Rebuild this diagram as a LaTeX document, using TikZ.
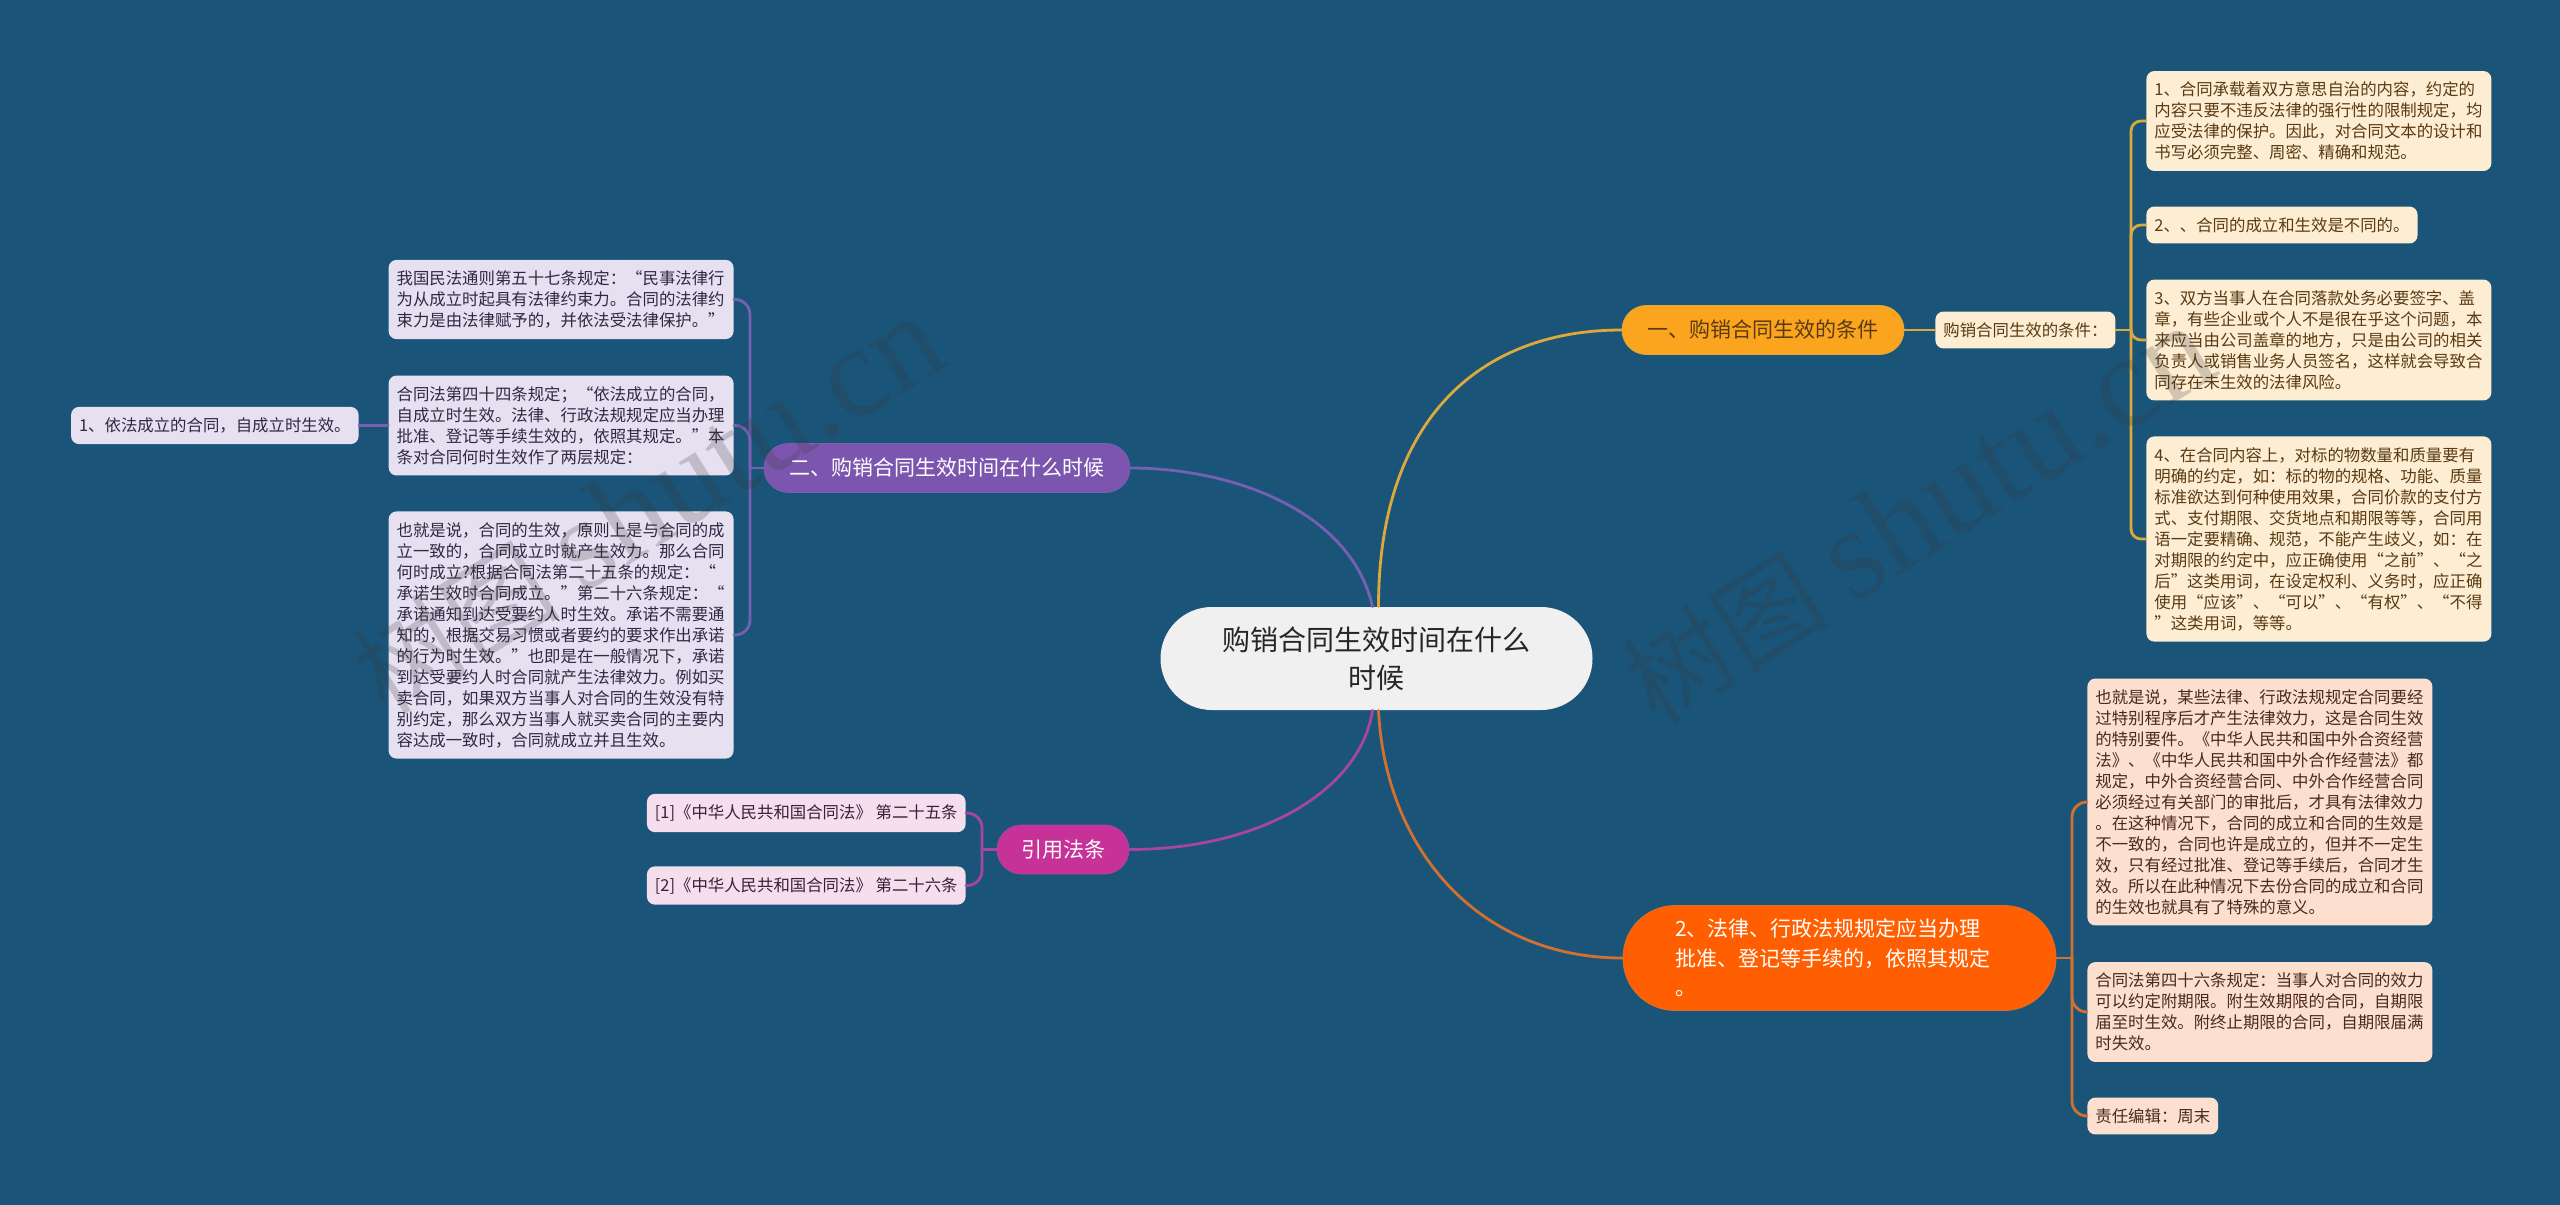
\documentclass[tikz,border=0pt]{standalone}
\usepackage{fontspec}
\setmainfont{Noto Sans CJK SC}
\newfontfamily\serifmark[Scale=1.25]{Liberation Serif}
\usepackage{tikz}

\definecolor{bgblue}{HTML}{1A5579}
\definecolor{goldline}{HTML}{DDA93B}
\definecolor{goldfill}{HTML}{FBA51E}
\definecolor{goldleaf}{HTML}{FDEDD3}
\definecolor{goldtext}{HTML}{5A3A12}
\definecolor{violetline}{HTML}{7660B4}
\definecolor{violetfill}{HTML}{7C56AE}
\definecolor{violetleaf}{HTML}{E6E0F1}
\definecolor{violettext}{HTML}{2E2A44}
\definecolor{pinkline}{HTML}{A845A0}
\definecolor{pinkfill}{HTML}{C73298}
\definecolor{pinkleaf}{HTML}{F5DEEE}
\definecolor{pinktext}{HTML}{3C2038}
\definecolor{orangeline}{HTML}{D4702F}
\definecolor{orangefill}{HTML}{FF5F00}
\definecolor{orangeleaf}{HTML}{FDDFCF}
\definecolor{orangetext}{HTML}{4A2A1A}

\tikzset{
  rootnode/.style={fill=#1, rounded corners=25.7pt, minimum width=216pt, minimum height=51.5pt,
    align=center, text=black!85, font=\fontsize{14}{19}\selectfont},
  branchnode/.style={rounded corners=12.2pt, minimum height=24.5pt, inner xsep=0pt,
    font=\fontsize{10.5}{14.7}\selectfont},
  leafnode/.style={rounded corners=4pt, inner xsep=4pt, inner ysep=5.4pt, align=left,
    font=\fontsize{8.2}{10.5}\selectfont},
  wideleaf/.style={leafnode, text width=164.5pt},
  link/.style={line width=1.4pt, line cap=round},
  markword/.style={text=gray!45!black, opacity=.22, rotate=32, font=\fontsize{52}{60}\selectfont}
}

\begin{document}
\begin{tikzpicture}[x=0.5pt, y=-0.5pt]
\def \bendgold {5pt}
\def \bendwide {7.5pt}

\fill[bgblue] (0,0) rectangle (2560,1205);
\useasboundingbox (0,0) rectangle (2560,1205);

\node[rootnode=black!6] (root) at (1376.5,658.5) {购销合同生效时间在什么\\时候};

% gold side
\node[branchnode, fill=goldfill, draw=goldline, text=goldtext, minimum width=141pt] (goldmain) at (1763,330) {一、购销合同生效的条件};
\node[leafnode, fill=goldleaf, text=goldtext, anchor=west] (goldsub) at (1935,330) {购销合同生效的条件：};
\node[wideleaf, fill=goldleaf, text=goldtext, anchor=west] (gold1) at (2146,121)
  {1、合同承载着双方意思自治的内容，约定的\\内容只要不违反法律的强行性的限制规定，均\\应受法律的保护。因此，对合同文本的设计和\\书写必须完整、周密、精确和规范。};
\node[leafnode, fill=goldleaf, text=goldtext, anchor=west] (gold2) at (2146,225) {2、、合同的成立和生效是不同的。};
\node[wideleaf, fill=goldleaf, text=goldtext, anchor=west] (gold3) at (2146,340)
  {3、双方当事人在合同落款处务必要签字、盖\\章，有些企业或个人不是很在乎这个问题，本\\来应当由公司盖章的地方，只是由公司的相关\\负责人或销售业务人员签名，这样就会导致合\\同存在未生效的法律风险。};
\node[wideleaf, fill=goldleaf, text=goldtext, anchor=west] (gold4) at (2146,539)
  {4、在合同内容上，对标的物数量和质量要有\\明确的约定，如：标的物的规格、功能、质量\\标准欲达到何种使用效果，合同价款的支付方\\式、支付期限、交货地点和期限等等，合同用\\语一定要精确、规范，不能产生歧义，如：在\\对期限的约定中，应正确使用“之前”、“之\\后”这类用词，在设定权利、义务时，应正确\\使用“应该”、“可以”、“有权”、“不得\\”这类用词，等等。};

% orange side
\node[branchnode, fill=orangefill, draw=orangeline, text=white, rounded corners=26pt, inner xsep=26pt, text width=164.5pt,
  minimum width=216.5pt, minimum height=52.5pt, align=left] (orangemain) at (1839.5,958)
  {2、法律、行政法规规定应当办理\\批准、登记等手续的，依照其规定\\。};
\node[wideleaf, fill=orangeleaf, text=orangetext, anchor=west] (orange1) at (2087,802)
  {也就是说，某些法律、行政法规规定合同要经\\过特别程序后才产生法律效力，这是合同生效\\的特别要件。《中华人民共和国中外合资经营\\法》、《中华人民共和国中外合作经营法》都\\规定，中外合资经营合同、中外合作经营合同\\必须经过有关部门的审批后，才具有法律效力\\。在这种情况下，合同的成立和合同的生效是\\不一致的，合同也许是成立的，但并不一定生\\效，只有经过批准、登记等手续后，合同才生\\效。所以在此种情况下去份合同的成立和合同\\的生效也就具有了特殊的意义。};
\node[wideleaf, fill=orangeleaf, text=orangetext, anchor=west] (orange2) at (2087,1012)
  {合同法第四十六条规定：当事人对合同的效力\\可以约定附期限。附生效期限的合同，自期限\\届至时生效。附终止期限的合同，自期限届满\\时失效。};
\node[leafnode, fill=orangeleaf, text=orangetext, anchor=west] (orange3) at (2087,1116) {责任编辑：周末};

% violet side
\node[branchnode, fill=violetfill, draw=violetline, text=white, minimum width=183pt] (violetmain) at (947,468) {二、购销合同生效时间在什么时候};
\node[wideleaf, fill=violetleaf, text=violettext, anchor=east] (violet1) at (734,299.5)
  {我国民法通则第五十七条规定：“民事法律行\\为从成立时起具有法律约束力。合同的法律约\\束力是由法律赋予的，并依法受法律保护。”};
\node[wideleaf, fill=violetleaf, text=violettext, anchor=east] (violet2) at (734,425.5)
  {合同法第四十四条规定；“依法成立的合同，\\自成立时生效。法律、行政法规规定应当办理\\批准、登记等手续生效的，依照其规定。”本\\条对合同何时生效作了两层规定：};
\node[wideleaf, fill=violetleaf, text=violettext, anchor=east] (violet3) at (734,635)
  {也就是说，合同的生效，原则上是与合同的成\\立一致的，合同成立时就产生效力。那么合同\\何时成立?根据合同法第二十五条的规定：“\\承诺生效时合同成立。”第二十六条规定：“\\承诺通知到达受要约人时生效。承诺不需要通\\知的，根据交易习惯或者要约的要求作出承诺\\的行为时生效。”也即是在一般情况下，承诺\\到达受要约人时合同就产生法律效力。例如买\\卖合同，如果双方当事人对合同的生效没有特\\别约定，那么双方当事人就买卖合同的主要内\\容达成一致时，合同就成立并且生效。};
\node[leafnode, fill=violetleaf, text=violettext, anchor=east] (violetfar) at (359,425.5) {1、依法成立的合同，自成立时生效。};

% pink side
\node[branchnode, fill=pinkfill, draw=pinkline, text=white, minimum width=66pt] (pinkmain) at (1063,849.5) {引用法条};
\node[leafnode, fill=pinkleaf, text=pinktext, anchor=east] (pink1) at (966,813) {[1]《中华人民共和国合同法》 第二十五条};
\node[leafnode, fill=pinkleaf, text=pinktext, anchor=east] (pink2) at (966,885.5) {[2]《中华人民共和国合同法》 第二十六条};

% root to branches
\draw[link, goldline] ([xshift=1pt]root.north) .. controls +(0,-187) and +(-142,0) .. (goldmain.west);
\draw[link, violetline] ([xshift=-2pt]root.north) .. controls +(-22,-97) and +(100,0) .. (violetmain.east);
\draw[link, pinkline] ([xshift=-2pt]root.south) .. controls +(-12,80) and +(131,0) .. (pinkmain.east);
\draw[link, orangeline] ([xshift=1pt]root.south) .. controls +(7,140) and +(-143,0) .. (orangemain.west);

% branches to leaves
\coordinate (goldjoint) at (2131,330);
\draw[link, goldline] (goldmain.east) -- (goldsub.west);
\draw[link, goldline] (goldsub.east) -- (goldjoint);
\foreach \s in {1,...,4}
{
  \draw[link, goldline, rounded corners=\bendgold] (goldjoint) |- (gold\s.west);
}

\coordinate (orangejoint) at (2072,958);
\draw[link, orangeline] (orangemain.east) -- (orangejoint);
\foreach \s in {1,...,3}
{
  \draw[link, orangeline, rounded corners=\bendwide] (orangejoint) |- (orange\s.west);
}

\coordinate (violetjoint) at (750,468);
\draw[link, violetline] (violetmain.west) -- (violetjoint);
\foreach \s in {1,...,3}
{
  \draw[link, violetline, rounded corners=\bendwide] (violetjoint) |- (violet\s.east);
}
\draw[link, violetline] (violet2.west) -- (violetfar.east);

\coordinate (pinkjoint) at (982,849.5);
\draw[link, pinkline] (pinkmain.west) -- (pinkjoint);
\foreach \s in {1,2}
{
  \draw[link, pinkline, rounded corners=\bendwide] (pinkjoint) |- (pink\s.east);
}

% watermark
\node[markword] (markleft) at (648,505) {树图 {\serifmark shutu.cn}};
\node[markword] (markright) at (1918,515) {树图 {\serifmark shutu.cn}};
\end{tikzpicture}
\end{document}
